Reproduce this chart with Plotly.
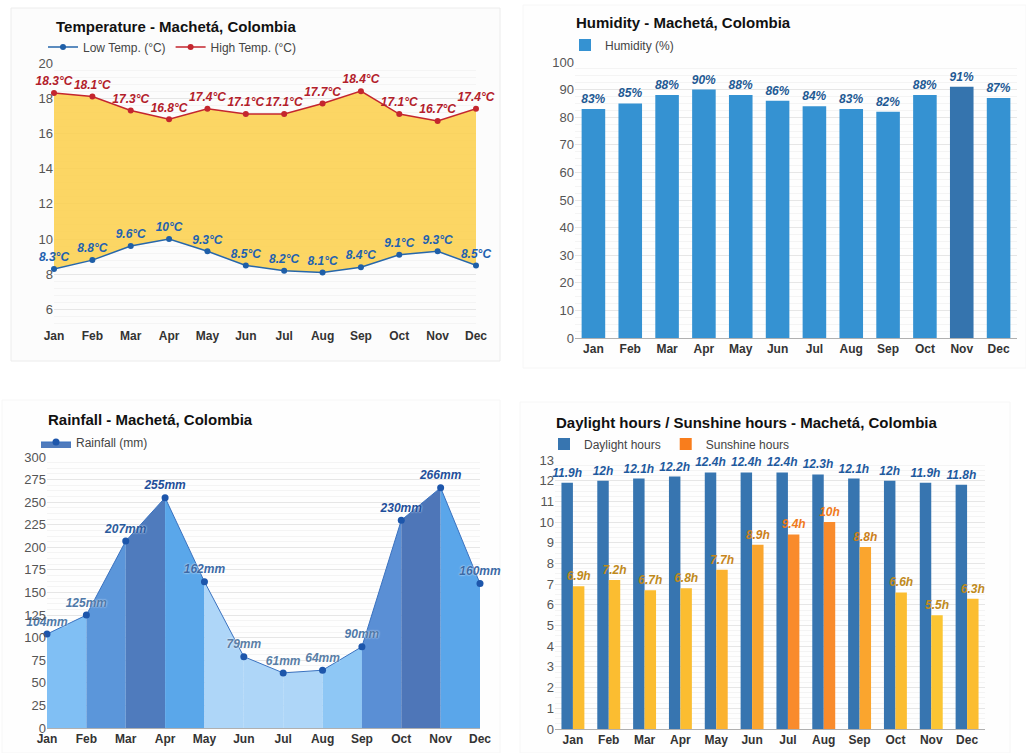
import plotly.graph_objects as go

W, H = 1026, 753

months = ["Jan", "Feb", "Mar", "Apr", "May", "Jun", "Jul", "Aug", "Sep", "Oct", "Nov", "Dec"]
low_temp = [8.3, 8.8, 9.6, 10.0, 9.3, 8.5, 8.2, 8.1, 8.4, 9.1, 9.3, 8.5]
high_temp = [18.3, 18.1, 17.3, 16.8, 17.4, 17.1, 17.1, 17.7, 18.4, 17.1, 16.7, 17.4]
humidity = [83, 85, 88, 90, 88, 86, 84, 83, 82, 88, 91, 87]
rainfall = [104, 125, 207, 255, 162, 79, 61, 64, 90, 230, 266, 160]
daylight = [11.9, 12.0, 12.1, 12.2, 12.4, 12.4, 12.4, 12.3, 12.1, 12.0, 11.9, 11.8]
sunshine = [6.9, 7.2, 6.7, 6.8, 7.7, 8.9, 9.4, 10.0, 8.8, 6.6, 5.5, 6.3]

low_labels = ["8.3°C", "8.8°C", "9.6°C", "10°C", "9.3°C", "8.5°C", "8.2°C", "8.1°C", "8.4°C", "9.1°C", "9.3°C", "8.5°C"]
high_labels = ["18.3°C", "18.1°C", "17.3°C", "16.8°C", "17.4°C", "17.1°C", "17.1°C", "17.7°C", "18.4°C", "17.1°C", "16.7°C", "17.4°C"]
hum_labels = ["83%", "85%", "88%", "90%", "88%", "86%", "84%", "83%", "82%", "88%", "91%", "87%"]
rain_labels = ["104mm", "125mm", "207mm", "255mm", "162mm", "79mm", "61mm", "64mm", "90mm", "230mm", "266mm", "160mm"]
day_labels = ["11.9h", "12h", "12.1h", "12.2h", "12.4h", "12.4h", "12.4h", "12.3h", "12.1h", "12h", "11.9h", "11.8h"]
sun_labels = ["6.9h", "7.2h", "6.7h", "6.8h", "7.7h", "8.9h", "9.4h", "10h", "8.8h", "6.6h", "5.5h", "6.3h"]

# styles
FONT = "Liberation Sans, Arial, sans-serif"
hum_colors = ["#3592d2"] * 10 + ["#3574ae", "#3592d2"]
rain_seg_colors = ["#80bff4", "#5b96da", "#4f7bbd", "#5aa7ea", "#aed6f8", "#aed6f8",
                   "#aed6f8", "#8ec7f5", "#5a8fd5", "#4e76b8", "#5aa6ea"]
rain_label_colors = ["#4f79a8", "#4f79a8", "#2a5a9c", "#1f4f9a", "#3c6aa6", "#5a7ea6",
                     "#5a7ea6", "#5a7ea6", "#4f79a8", "#1f4f9a", "#1f4f9a", "#3c6aa6"]
sun_colors = ["#fbbd31", "#fbbd31", "#fbbd31", "#fbbd31", "#fbb22f", "#faa52e",
              "#f98b2c", "#f98b2c", "#faa52e", "#fbbd31", "#fbc533", "#fbbd31"]
sun_label_colors = ["#c08a1c", "#c08a1c", "#c08a1c", "#c08a1c", "#c8861c", "#cc801c",
                    "#f07a1c", "#f07a1c", "#cc801c", "#c08a1c", "#c08a1c", "#c08a1c"]


def px(x):
    return x / W


def py(y):
    return 1 - y / H


label_font = dict(family=FONT, size=12, weight="bold", style="italic")

fig = go.Figure()

# ---- Panel 1: temperature ----
fig.add_trace(go.Scatter(
    x=list(range(12)), y=low_temp, mode="lines+markers+text", name="Low Temp. (°C)",
    line=dict(color="#2767ab", width=1.5), marker=dict(color="#1f5fa8", size=6),
    text=low_labels, textposition="top center",
    textfont=dict(label_font, color="#1f62b0"),
    xaxis="x", yaxis="y", legend="legend", cliponaxis=False))
fig.add_trace(go.Scatter(
    x=list(range(12)), y=high_temp, mode="none", fill="tonexty",
    fillcolor="rgba(252,208,78,0.88)", showlegend=False, hoverinfo="skip",
    xaxis="x", yaxis="y"))
fig.add_trace(go.Scatter(
    x=list(range(12)), y=high_temp, mode="lines+markers+text", name="High Temp. (°C)",
    line=dict(color="#c4262e", width=1.5), marker=dict(color="#c4262e", size=6),
    text=high_labels, textposition="top center",
    textfont=dict(label_font, color="#b3202a"),
    xaxis="x", yaxis="y", legend="legend", cliponaxis=False))

# ---- Panel 2: humidity ----
fig.add_trace(go.Bar(
    x=months, y=humidity, name="Humidity (%)", marker=dict(color=hum_colors, line_width=0),
    text=hum_labels, textposition="outside", textangle=0, constraintext="none",
    textfont=dict(label_font, color="#1f5a94"),
    xaxis="x2", yaxis="y2", legend="legend2", cliponaxis=False))

# ---- Panel 3: rainfall ----
for i in range(11):
    fig.add_trace(go.Scatter(
        x=[i, i + 1], y=[rainfall[i], rainfall[i + 1]], mode="none",
        fill="tozeroy", fillcolor=rain_seg_colors[i], showlegend=False,
        hoverinfo="skip", xaxis="x3", yaxis="y3"))
fig.add_trace(go.Scatter(
    x=list(range(12)), y=rainfall, mode="lines+markers+text", name="Rainfall (mm)",
    line=dict(color="#3a72c0", width=1), marker=dict(color="#1d56ab", size=7),
    text=rain_labels, textposition="top center",
    textfont=dict(label_font, color=rain_label_colors, shadow="0px 0px 2px white"),
    xaxis="x3", yaxis="y3", cliponaxis=False, showlegend=False))
fig.add_trace(go.Scatter(
    x=[None], y=[None], mode="lines+markers", name="Rainfall (mm)",
    line=dict(color="#3a72c0", width=1), marker=dict(color="#1d56ab", size=7),
    fill="tozeroy", fillcolor="#4f7bbd",
    xaxis="x3", yaxis="y3", legend="legend3"))

# ---- Panel 4: daylight / sunshine ----
fig.add_trace(go.Bar(
    x=months, y=daylight, name="Daylight hours", marker=dict(color="#3775b0", line_width=0),
    text=day_labels, textposition="outside", textangle=0, constraintext="none",
    textfont=dict(label_font, color="#1f5a9e"),
    xaxis="x4", yaxis="y4", legend="legend4", cliponaxis=False, offsetgroup="d"))
fig.add_trace(go.Bar(
    x=months, y=sunshine, name="Sunshine hours", marker=dict(color=sun_colors, line_width=0),
    text=sun_labels, textposition="outside", textangle=0, constraintext="none",
    textfont=dict(label_font, color=sun_label_colors), showlegend=False,
    xaxis="x4", yaxis="y4", cliponaxis=False, offsetgroup="s"))
fig.add_trace(go.Bar(
    x=[None], y=[None], name="Sunshine hours", marker=dict(color="#f97d1c", line_width=0),
    xaxis="x4", yaxis="y4", legend="legend4", offsetgroup="s"))

tick_x = dict(family=FONT, size=12, color="#333333", weight="bold")
tick_y = dict(family=FONT, size=13, color="#555555")
grid = "#e6e6e6"
minor_grid = "#f4f4f4"

common_x = dict(showgrid=False, zeroline=False, tickfont=tick_x, ticks="", automargin=False)
common_y = dict(showgrid=True, gridcolor=grid, zeroline=False, tickfont=tick_y, ticks="",
                automargin=False)
leg = dict(xanchor="left", yanchor="middle", orientation="h",
           font=dict(family=FONT, size=12, color="#444"), bgcolor="rgba(0,0,0,0)",
           itemwidth=30, traceorder="normal")

fig.update_layout(
    template="none",
    width=W, height=H, margin=dict(l=0, r=0, t=0, b=0, autoexpand=False),
    paper_bgcolor="white", plot_bgcolor="rgba(0,0,0,0)",
    font=dict(family=FONT, color="#333333"),
    barmode="group", bargap=0.36, bargroupgap=0,
    xaxis=dict(common_x, domain=[px(54), px(476)], range=[0, 11], tickvals=list(range(12)),
               ticktext=months, anchor="y"),
    yaxis=dict(common_y, domain=[py(327), py(63)], range=[5, 20], dtick=2, tick0=0, anchor="x",
               minor=dict(dtick=0.4, showgrid=True, gridcolor=minor_grid)),
    xaxis2=dict(common_x, domain=[px(575), px(1017)], anchor="y2", showline=True,
                linecolor="#b0b0b0"),
    yaxis2=dict(common_y, domain=[py(338), py(62)], range=[0, 100], dtick=10, anchor="x2",
                minor=dict(dtick=2.5, showgrid=True, gridcolor=minor_grid)),
    xaxis3=dict(common_x, domain=[px(47), px(480)], range=[0, 11], tickvals=list(range(12)),
                ticktext=months, anchor="y3", showline=True, linecolor="#b0b0b0"),
    yaxis3=dict(common_y, domain=[py(728), py(457)], range=[0, 300], dtick=25, anchor="x3",
                minor=dict(dtick=6.25, showgrid=True, gridcolor=minor_grid)),
    xaxis4=dict(common_x, domain=[px(555), px(985)], anchor="y4", showline=True,
                linecolor="#b0b0b0"),
    yaxis4=dict(common_y, domain=[py(729), py(460)], range=[0, 13], dtick=1, anchor="x4",
                minor=dict(dtick=0.25, showgrid=True, gridcolor=minor_grid)),
    legend=dict(leg, x=px(43), y=py(47)),
    legend2=dict(leg, x=px(565), y=py(45)),
    legend3=dict(leg, x=px(36), y=py(442)),
    legend4=dict(leg, x=px(544), y=py(444)),
    showlegend=True,
)

titles = [
    ("Temperature - Machetá, Colombia", 54, 27),
    ("Humidity - Machetá, Colombia", 574, 23),
    ("Rainfall - Machetá, Colombia", 46, 420),
    ("Daylight hours / Sunshine hours - Machetá, Colombia", 554, 423),
]
for t, x, y in titles:
    fig.add_annotation(text=t, x=px(x), y=py(y), xref="paper", yref="paper",
                       xanchor="left", yanchor="middle", showarrow=False,
                       font=dict(family=FONT, size=15, color="#111111", weight="bold"))

# card backgrounds
fig.add_shape(type="rect", xref="paper", yref="paper", x0=px(11), x1=px(500), y0=py(361),
              y1=py(8), fillcolor="#fcfcfc", line=dict(color="#ececec", width=1), layer="below")
fig.add_shape(type="rect", xref="paper", yref="paper", x0=px(523), x1=px(1026), y0=py(368),
              y1=py(5), fillcolor="#fefefe", line=dict(color="#f6f6f6", width=1), layer="below")
fig.add_shape(type="rect", xref="paper", yref="paper", x0=px(2), x1=px(500), y0=py(753),
              y1=py(400), fillcolor="#fefefe", line=dict(color="#f6f6f6", width=1), layer="below")
fig.add_shape(type="rect", xref="paper", yref="paper", x0=px(520), x1=px(1010), y0=py(753),
              y1=py(402), fillcolor="#fefefe", line=dict(color="#f6f6f6", width=1), layer="below")

fig.write_html("out.html", config={"displayModeBar": False},
               post_script="document.body.style.margin='0';document.body.style.overflow='hidden';")
